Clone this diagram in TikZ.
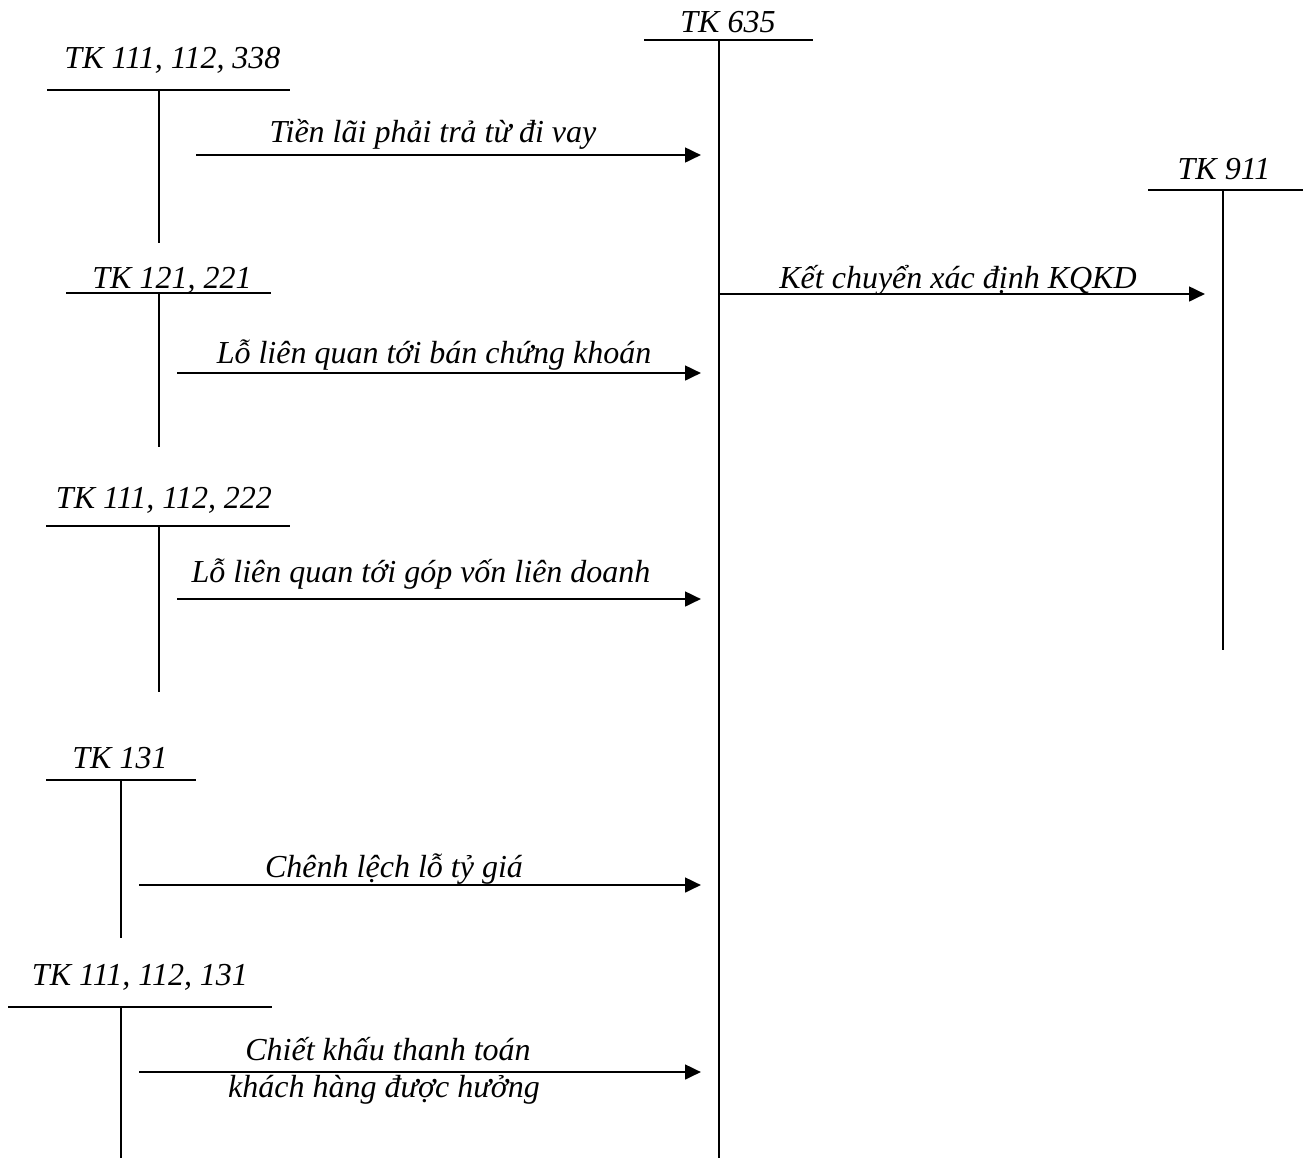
\documentclass[tikz,border=0pt]{standalone}
\usepackage{fontspec}
\setmainfont{Liberation Serif}
\usetikzlibrary{arrows.meta}
\begin{document}
\begin{tikzpicture}[x=0.75pt,y=-0.75pt,
  tline/.style={line width=1.5pt},
  flow/.style={line width=2pt,-{Triangle[length=12pt,width=11pt]}},
  lbl/.style={anchor=base,inner sep=0pt,font=\fontsize{24}{28}\selectfont\itshape}]
\useasboundingbox (0,0) rectangle (1303,1158);

% T-account TK 635
\node[lbl] (n635) at (728,32) {TK 635};
\draw[tline] (644,40) -- (813,40);
\draw[tline] (719,40) coordinate (v635top) -- (719,1158) coordinate (v635bot);

% T-account TK 911
\node[lbl] (n911) at (1224,179) {TK 911};
\draw[tline] (1148,190) -- (1303,190);
\draw[tline] (1223,190) -- (1223,650);

% T-account TK 111, 112, 338
\node[lbl] (a1) at (172.5,68) {TK 111, 112, 338};
\draw[tline] (47,90) -- (290,90);
\draw[tline] (159,90) -- (159,243);

% T-account TK 121, 221
\node[lbl] (a2) at (172,288) {TK 121, 221};
\draw[tline] (66,293) -- (271,293);
\draw[tline] (159,293) -- (159,447);

% T-account TK 111, 112, 222
\node[lbl] (a3) at (164,508) {TK 111, 112, 222};
\draw[tline] (46,526) -- (290,526);
\draw[tline] (159,526) -- (159,692);

% T-account TK 131
\node[lbl] (a4) at (120,768) {TK 131};
\draw[tline] (46,780) -- (196,780);
\draw[tline] (121,780) -- (121,938);

% T-account TK 111, 112, 131
\node[lbl] (a5) at (140,985) {TK 111, 112, 131};
\draw[tline] (8,1007) -- (272,1007);
\draw[tline] (121,1007) -- (121,1158);

% arrow end points
\coordinate (s1) at (196,155);  \coordinate (e1) at (701,155);
\coordinate (s2) at (177,373);  \coordinate (e2) at (701,373);
\coordinate (s3) at (177,599);  \coordinate (e3) at (701,599);
\coordinate (s4) at (139,885);  \coordinate (e4) at (701,885);
\coordinate (s5) at (139,1072); \coordinate (e5) at (701,1072);
\coordinate (s6) at (719,294);  \coordinate (e6) at (1205,294);

% entries posted to TK 635
\draw[flow] (s1) -- (e1);
\node[lbl] (t1) at (433,142) {Tiền lãi phải trả từ đi vay};
\draw[flow] (s2) -- (e2);
\node[lbl] (t2) at (434,363) {Lỗ liên quan tới bán chứng khoán};
\draw[flow] (s3) -- (e3);
\node[lbl] (t3) at (421,582) {Lỗ liên quan tới góp vốn liên doanh};
\draw[flow] (s4) -- (e4);
\node[lbl] (t4) at (394,877) {Chênh lệch lỗ tỷ giá};
\draw[flow] (s5) -- (e5);
\node[lbl] (t5a) at (388,1060) {Chiết khấu thanh toán};
\node[lbl] (t5b) at (384,1097) {khách hàng được hưởng};

% closing entry to TK 911
\draw[flow] (s6) -- (e6);
\node[lbl] (t6) at (958,288) {Kết chuyển xác định KQKD};
\end{tikzpicture}
\end{document}
